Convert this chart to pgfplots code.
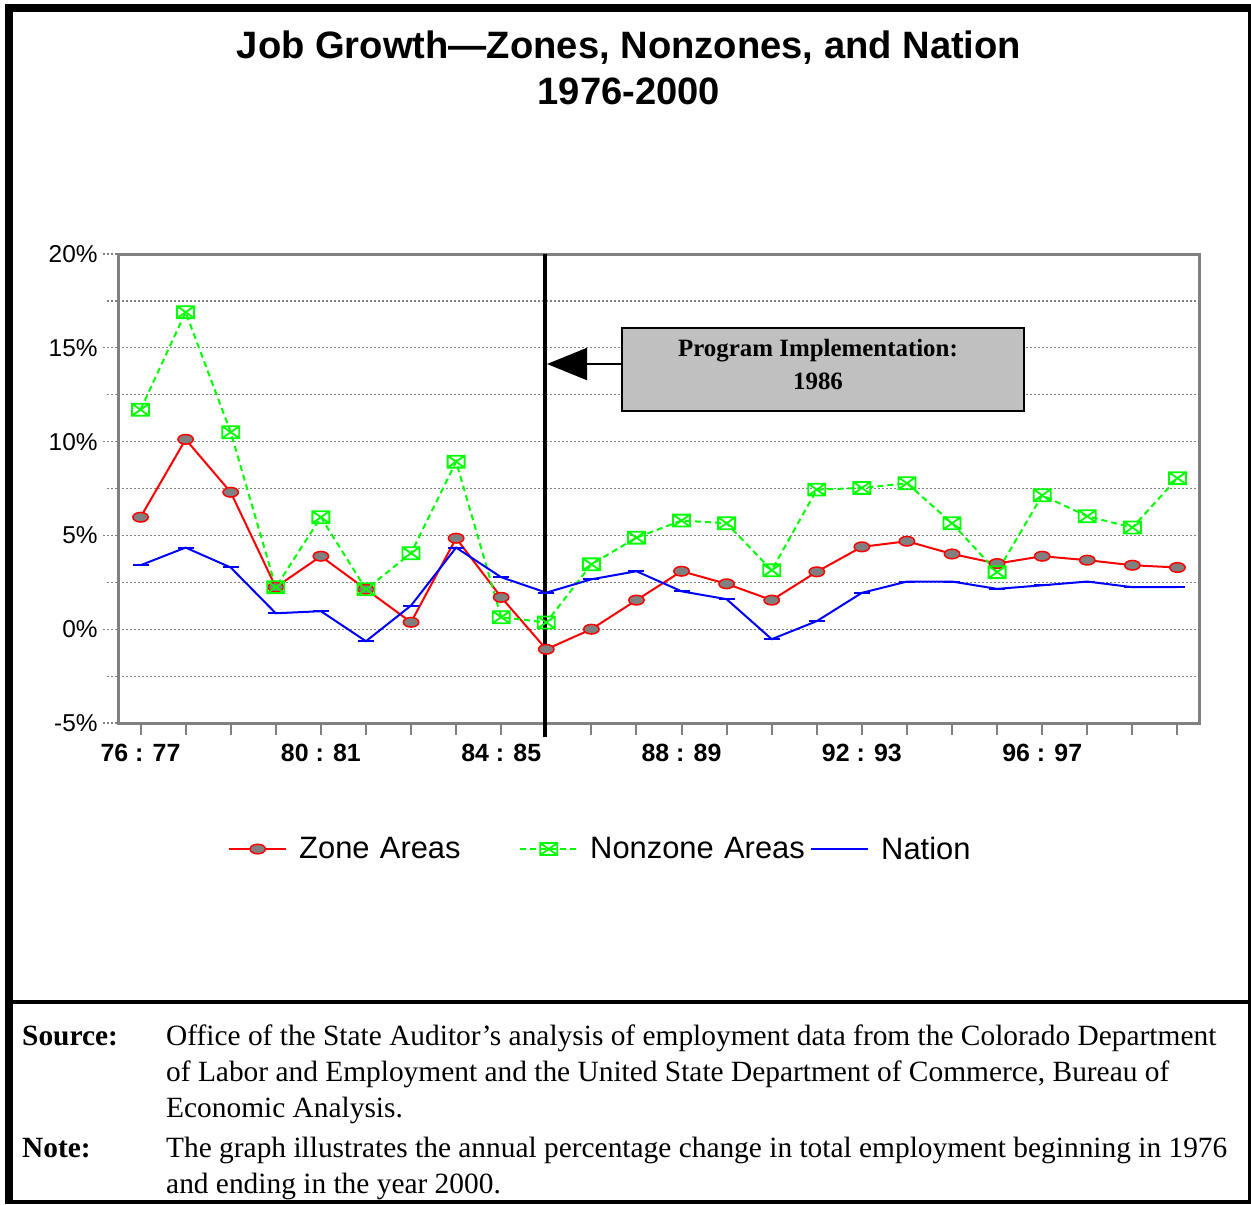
\documentclass[border=0pt]{standalone}
\usepackage{fontspec}
\setmainfont{Liberation Serif}
\newfontfamily\arial{Liberation Sans}
\usepackage{pgfplots}
\usepackage{pgfplotstable}
\pgfplotsset{compat=1.18}
\usetikzlibrary{arrows.meta}

\definecolor{zonered}{RGB}{255,0,0}
\definecolor{nzgreen}{RGB}{0,255,0}
\definecolor{natblue}{RGB}{0,0,255}
\definecolor{midgray}{RGB}{128,128,128}
\definecolor{boxgray}{RGB}{192,192,192}

% rectangle with both diagonals, wider than tall
\pgfdeclareplotmark{boxcross}{%
  \pgfpathrectangle{\pgfpoint{-\pgfplotmarksize}{-0.7\pgfplotmarksize}}{\pgfpoint{2\pgfplotmarksize}{1.4\pgfplotmarksize}}%
  \pgfpathmoveto{\pgfpoint{-\pgfplotmarksize}{-0.7\pgfplotmarksize}}%
  \pgfpathlineto{\pgfpoint{\pgfplotmarksize}{0.7\pgfplotmarksize}}%
  \pgfpathmoveto{\pgfpoint{-\pgfplotmarksize}{0.7\pgfplotmarksize}}%
  \pgfpathlineto{\pgfpoint{\pgfplotmarksize}{-0.7\pgfplotmarksize}}%
  \pgfusepathqstroke}

% annual employment change (%), periods 76:77 ... 99:00
\pgfplotstableread{
x  zone   nonzone  nation
0   5.97  11.70    3.41
1  10.12  16.90    4.35
2   7.30  10.50    3.29
3   2.24   2.24    0.85
4   3.89   5.97    0.96
5   2.13   2.13   -0.64
6   0.37   4.05    1.26
7   4.85   8.93    4.35
8   1.70   0.64    2.77
9  -1.07   0.36    1.95
10  0.00   3.46    2.66
11  1.55   4.88    3.09
12  3.09   5.79    2.02
13  2.42   5.65    1.60
14  1.55   3.14   -0.53
15  3.06   7.44    0.43
16  4.39   7.53    1.94
17  4.69   7.78    2.54
18  4.01   5.65    2.54
19  3.50   3.04    2.15
20  3.89   7.14    2.34
21  3.68   6.02    2.54
22  3.41   5.42    2.24
23  3.29   8.05    2.24
}\jobdata

\begin{document}
\begin{tikzpicture}
\useasboundingbox (0bp,0bp) rectangle (1251bp,-1205bp);

% page frame
\fill[black] (5bp,-4bp) rectangle (1251bp,-12bp);
\fill[black] (5bp,-4bp) rectangle (13bp,-1203.5bp);
\fill[black] (1247.5bp,-4bp) rectangle (1251bp,-1203.5bp);
\fill[black] (5bp,-1200bp) rectangle (1251bp,-1203.5bp);
\fill[black] (5bp,-1000bp) rectangle (1251bp,-1004bp);

% title
\node[font=\arial\bfseries\fontsize{38.3}{46}\selectfont, anchor=base] at (629bp,-58.5bp) {Job Growth—Zones, Nonzones, and Nation};
\node[font=\arial\bfseries\fontsize{38.3}{46}\selectfont, anchor=base] at (629bp,-104.5bp) {1976-2000};

\begin{axis}[
  at={(118bp,-723bp)}, anchor=south west,
  scale only axis, width=1082bp, height=469bp,
  xmin=-0.5, xmax=23.5, ymin=-5, ymax=20,
  clip=false,
  axis line style={midgray, line width=3bp},
  xtick={0,...,23},
  xticklabels={76 : 77,,,,80 : 81,,,,84 : 85,,,,88 : 89,,,,92 : 93,,,,96 : 97,,,},
  ytick={-5,0,5,10,15,20},
  yticklabels={-5\%,0\%,5\%,10\%,15\%,20\%},
  minor ytick={-2.5,2.5,7.5,12.5,17.5},
  ymajorgrids, yminorgrids,
  major grid style={midgray, line width=1.2bp, dash pattern=on 1.5bp off 2.5bp},
  minor grid style={midgray, line width=1.2bp, dash pattern=on 1.5bp off 2.5bp},
  tick align=outside,
  xtick pos=bottom, ytick pos=left,
  x tick style={midgray, line width=2bp, /pgfplots/major tick length=12bp},
  y tick style={midgray, line width=1.2bp, dash pattern=on 1.5bp off 2.5bp, /pgfplots/major tick length=15bp},
  minor y tick style={midgray, line width=1.2bp, dash pattern=on 1.5bp off 2.5bp, /pgfplots/minor tick length=11bp},
  x tick label style={font=\arial\bfseries\fontsize{25}{25}\selectfont, anchor=north, inner sep=0pt, yshift=-17bp},
  y tick label style={font=\arial\fontsize{24.5}{24.5}\selectfont, anchor=east, inner sep=0pt, xshift=-16bp},
  legend columns=3,
  legend style={at={(0.1017,-0.2687)}, anchor=west, draw=none, fill=none, inner sep=0pt,
    font=\arial\fontsize{31}{31}\selectfont,
    nodes={inner sep=0pt, text width=220bp, align=left},
    /tikz/every odd column/.append style={column sep=12bp}},
  legend image code/.code={\draw[mark repeat=2, mark phase=2, #1] plot coordinates {(0bp,0bp) (28.5bp,0bp) (57bp,0bp)};},
]
\addplot[zonered, line width=2bp, mark=*, mark size=4.8bp,
  mark options={solid, fill=midgray, draw=zonered, line width=1.5bp, xscale=1.6}]
  table[x=x, y=zone] {\jobdata};
\addlegendentry{Zone Areas}
\addplot[nzgreen, line width=2bp, dash pattern=on 6bp off 4bp, mark=boxcross, mark size=8.5bp,
  mark options={solid, line width=1.8bp}]
  table[x=x, y=nonzone] {\jobdata};
\addlegendentry{Nonzone Areas}
\addplot[natblue, line width=2bp, mark=-, mark size=8bp, mark options={solid, line width=2bp}]
  table[x=x, y=nation] {\jobdata};
\addlegendentry{Nation}
% start of the program
\draw[black, line width=3.5bp] ([xshift=-1.5bp]axis cs:9,20) -- ([xshift=-1.5bp, yshift=-14bp]axis cs:9,-5);
\end{axis}

% annotation
\draw[black, line width=2bp, -{Triangle[length=40bp, width=32bp]}] (623bp,-364bp) -- (547bp,-364bp);
\node[draw=black, line width=2bp, fill=boxgray, minimum width=402bp, minimum height=83bp, inner sep=0pt] at (823bp,-369.5bp) {};
\node[font=\bfseries\fontsize{25}{33}\selectfont, align=center] at (818bp,-364.5bp) {Program Implementation:\\1986};

% notes
\begin{scope}[every node/.style={anchor=base west, inner sep=0pt, font=\fontsize{29.5}{36}\selectfont}]
\node[font=\bfseries\fontsize{29.5}{36}\selectfont] at (22bp,-1045bp) {Source:};
\node at (166bp,-1045bp) {Office of the State Auditor’s analysis of employment data from the Colorado Department};
\node at (166bp,-1081bp) {of Labor and Employment and the United State Department of Commerce, Bureau of};
\node at (166bp,-1117bp) {Economic Analysis.};
\node[font=\bfseries\fontsize{29.5}{36}\selectfont] at (22bp,-1157bp) {Note:};
\node at (166bp,-1157bp) {The graph illustrates the annual percentage change in total employment beginning in 1976};
\node at (166bp,-1193bp) {and ending in the year 2000.};
\end{scope}
\end{tikzpicture}
\end{document}
